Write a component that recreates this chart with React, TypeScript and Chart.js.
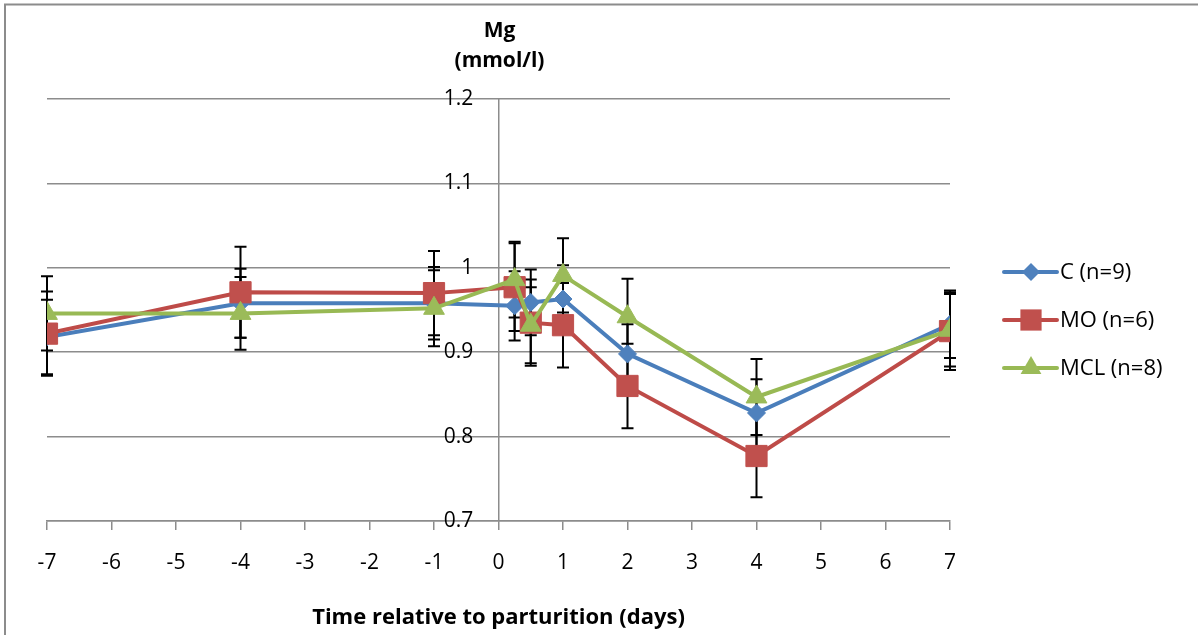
import React, { useEffect, useRef } from "react";
import { Chart, registerables } from "chart.js";

Chart.register(...registerables);

const days = [-7, -4, -1, 0.25, 0.5, 1, 2, 4, 7];
const seriesNames = ["C (n=9)", "MO (n=6)", "MCL (n=8)"];
const cValues = [0.918, 0.958, 0.958, 0.955, 0.959, 0.963, 0.898, 0.828, 0.933];
const moValues = [0.922, 0.971, 0.970, 0.977, 0.935, 0.932, 0.860, 0.777, 0.925];
const mclValues = [0.946, 0.946, 0.952, 0.986, 0.932, 0.991, 0.942, 0.847, 0.926];
const cErrors = [0.044, 0.041, 0.043, 0.041, 0.039, 0.040, 0.035, 0.040, 0.040];
const moErrors = [0.050, 0.054, 0.050, 0.052, 0.051, 0.050, 0.050, 0.049, 0.046];
const mclErrors = [0.044, 0.043, 0.045, 0.045, 0.045, 0.044, 0.045, 0.045, 0.043];
const yTitleLines = ["Mg", "(mmol/l)"];
const xTitle = "Time relative to parturition (days)";

const FONT = "'Open Sans', Lato, sans-serif";
const GRID = "#8c8c8c";

const styles = [
  { line: "#4A7EBB", fill: "#4F81BD", point: "rectRot", radius: 9, order: 3 },
  { line: "#BE4B48", fill: "#C0504D", point: "rect", radius: 15, order: 2 },
  { line: "#98B954", fill: "#9BBB59", point: "triangle", radius: 12, order: 1 },
];

const values = [cValues, moValues, mclValues];
const errors = [cErrors, moErrors, mclErrors];

function drawMarker(ctx: CanvasRenderingContext2D, style: string, r: number, x: number, y: number) {
  ctx.beginPath();
  if (style === "rectRot") {
    ctx.moveTo(x, y - r);
    ctx.lineTo(x + r, y);
    ctx.lineTo(x, y + r);
    ctx.lineTo(x - r, y);
    ctx.closePath();
  } else if (style === "rect") {
    const s = r * Math.SQRT1_2;
    ctx.rect(x - s, y - s, 2 * s, 2 * s);
  } else {
    ctx.moveTo(x, y - r);
    ctx.lineTo(x + r * Math.sin(Math.PI / 3), y + r * 0.5);
    ctx.lineTo(x - r * Math.sin(Math.PI / 3), y + r * 0.5);
    ctx.closePath();
  }
  ctx.fill();
}

export default function App() {
  const ref = useRef<HTMLCanvasElement | null>(null);

  useEffect(() => {
    const canvas = ref.current;
    if (!canvas) return;

    const errorBars = {
      id: "errorBars",
      beforeDatasetsDraw(chart: any) {
        const ctx = chart.ctx;
        const xs = chart.scales.x;
        const ys = chart.scales.y;
        ctx.save();
        ctx.strokeStyle = "#000";
        ctx.lineWidth = 2;
        values.forEach((vals, si) => {
          vals.forEach((v, i) => {
            const px = xs.getPixelForValue(days[i]);
            const top = ys.getPixelForValue(v + errors[si][i]);
            const bot = ys.getPixelForValue(v - errors[si][i]);
            ctx.beginPath();
            ctx.moveTo(px, top);
            ctx.lineTo(px, bot);
            ctx.moveTo(px - 6, top);
            ctx.lineTo(px + 6, top);
            ctx.moveTo(px - 6, bot);
            ctx.lineTo(px + 6, bot);
            ctx.stroke();
          });
        });
        ctx.restore();
      },
    };

    const decorations = {
      id: "decorations",
      afterDraw(chart: any) {
        const ctx = chart.ctx;
        const area = chart.chartArea;
        const cx = (area.left + area.right) / 2;
        ctx.save();
        ctx.strokeStyle = GRID;
        ctx.lineWidth = 2;
        ctx.strokeRect(5, 4.5, 1400, 800);
        ctx.fillStyle = "#000";
        ctx.font = "bold 21px " + FONT;
        ctx.textAlign = "center";
        ctx.textBaseline = "alphabetic";
        ctx.fillText(yTitleLines[0], cx + 1, 37);
        ctx.fillText(yTitleLines[1], cx + 1, 67);
        ctx.font = "bold 22px " + FONT;
        ctx.fillText(xTitle, cx, 624);
        ctx.font = "22px " + FONT;
        ctx.textAlign = "left";
        ctx.textBaseline = "middle";
        seriesNames.forEach((name, i) => {
          const y = 272 + i * 48;
          const st = styles[i];
          ctx.strokeStyle = st.line;
          ctx.lineWidth = 4;
          ctx.lineCap = "round";
          ctx.beginPath();
          ctx.moveTo(1004, y);
          ctx.lineTo(1057, y);
          ctx.stroke();
          ctx.fillStyle = st.fill;
          drawMarker(ctx, st.point, st.radius, 1031, y);
          ctx.fillStyle = "#000";
          ctx.fillText(name, 1060, y + 1);
        });
        ctx.restore();
      },
    };

    const chart = new Chart(canvas, {
      type: "line",
      data: {
        datasets: values.map((vals, si) => ({
          label: seriesNames[si],
          data: vals.map((v, i) => ({ x: days[i], y: v })),
          order: styles[si].order,
          borderColor: styles[si].line,
          backgroundColor: styles[si].fill,
          pointBackgroundColor: styles[si].fill,
          pointBorderColor: styles[si].fill,
          pointBorderWidth: 1,
          pointStyle: styles[si].point as any,
          pointRadius: styles[si].radius,
          pointHoverRadius: styles[si].radius,
          borderWidth: 4,
          tension: 0,
          fill: false,
        })),
      },
      options: {
        responsive: false,
        animation: false,
        devicePixelRatio: 1,
        layout: { padding: { left: 47, right: 248, top: 99, bottom: 0 } },
        plugins: {
          legend: { display: false },
          tooltip: { enabled: false },
          title: { display: false },
        },
        scales: {
          x: {
            type: "linear",
            min: -7,
            max: 7,
            ticks: {
              stepSize: 1,
              color: "#000",
              font: { family: FONT, size: 21 },
              padding: 20,
              maxRotation: 0,
            },
            grid: {
              drawOnChartArea: false,
              drawTicks: true,
              tickLength: 9,
              color: GRID,
              lineWidth: 1.5,
            },
            border: { display: true, color: GRID, width: 1.5 },
            afterFit: (scale: any) => {
              scale.height = 114;
            },
          },
          y: {
            type: "linear",
            position: { x: 0 } as any,
            min: 0.7,
            max: 1.2,
            ticks: { stepSize: 0.1, display: false },
            grid: { drawTicks: false, color: GRID, lineWidth: 1.5 },
            border: { display: true, color: GRID, width: 1.5 },
          },
          yLabels: {
            type: "linear",
            axis: "y",
            position: { x: -0.39 } as any,
            min: 0.7,
            max: 1.2,
            ticks: {
              stepSize: 0.1,
              color: "#000",
              font: { family: FONT, size: 21 },
              callback: (v: any) => String(+Number(v).toFixed(1)),
            },
            grid: { display: false, drawTicks: false },
            border: { display: false },
          },
        },
      } as any,
      plugins: [errorBars, decorations],
    });

    return () => chart.destroy();
  }, []);

  return (
    <div style={{ position: "fixed", left: 0, top: 0, width: 1198, height: 635, background: "#fff" }}>
      <canvas ref={ref} width={1198} height={635} style={{ display: "block" }} />
    </div>
  );
}
